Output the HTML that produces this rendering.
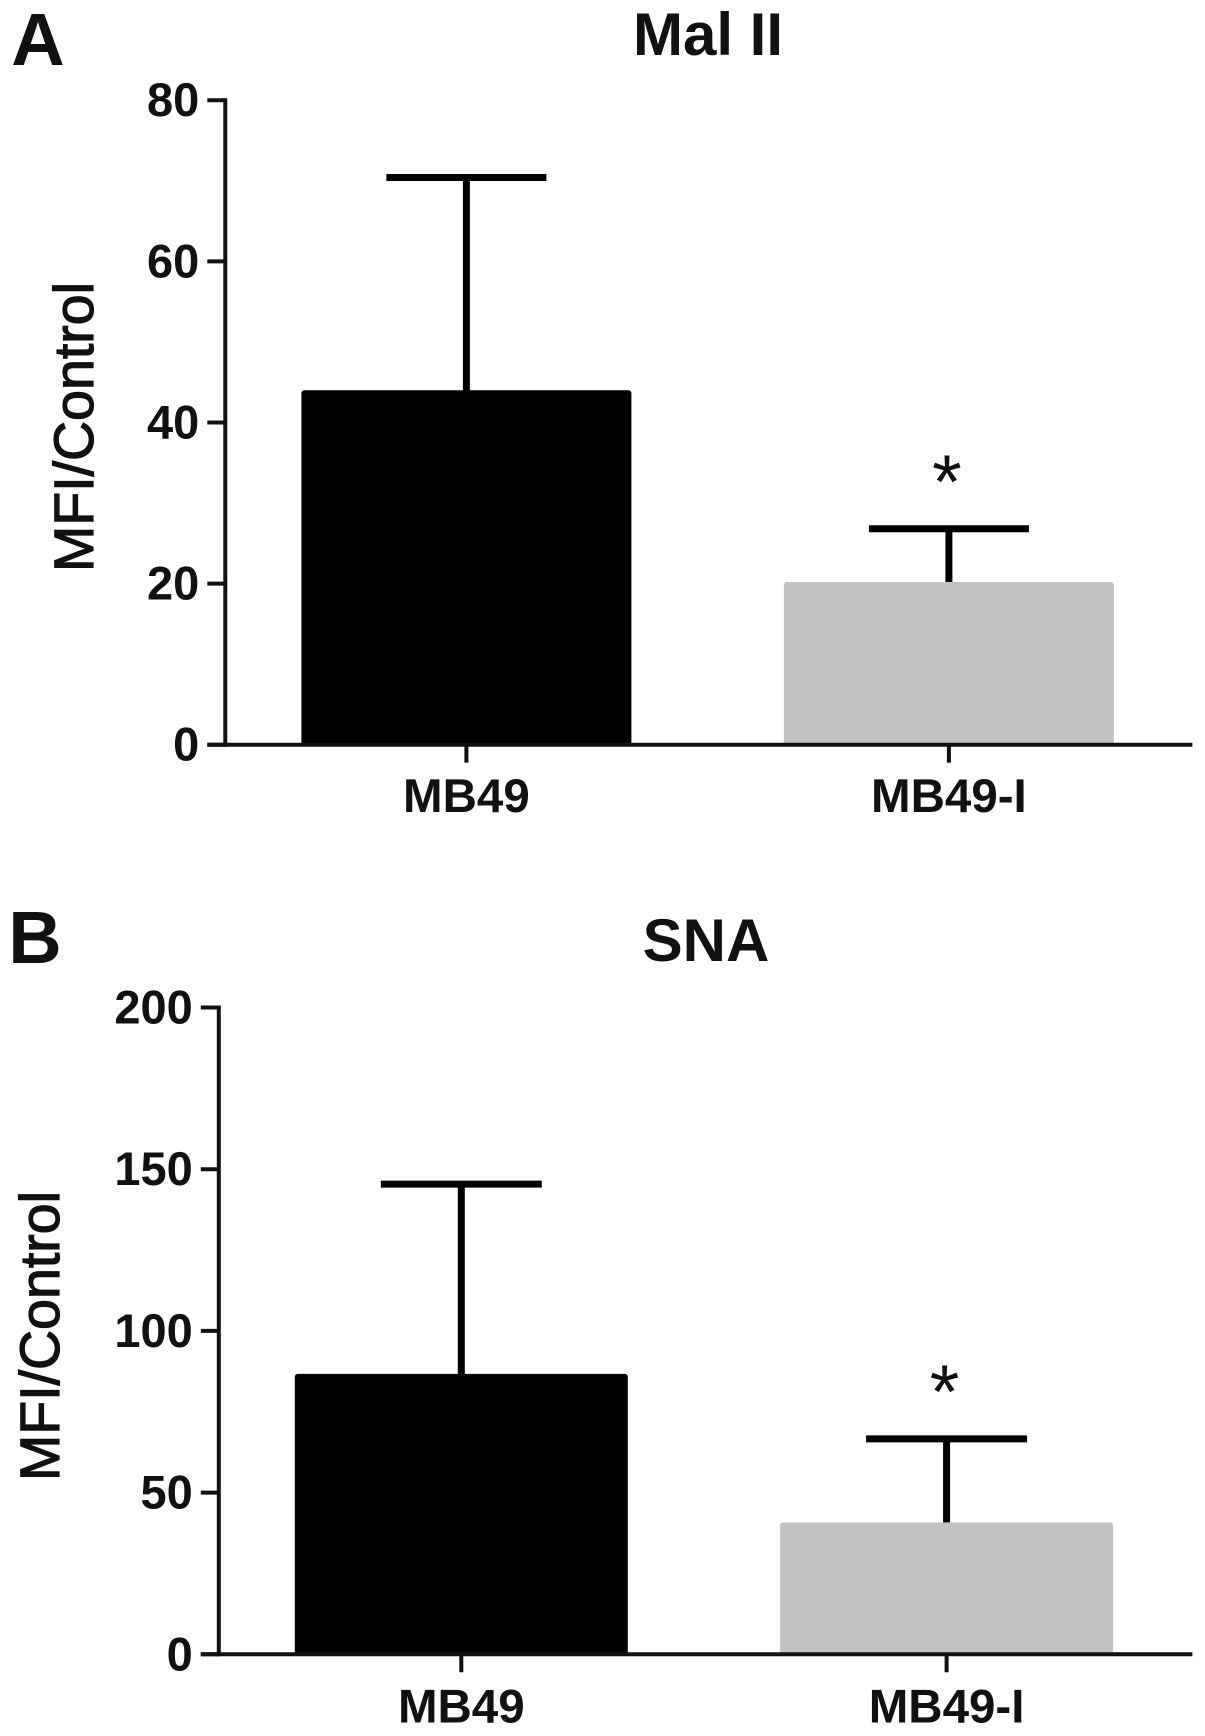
<!DOCTYPE html>
<html lang="en">
<head>
<meta charset="utf-8">
<title>Mal II and SNA MFI/Control</title>
<style>
html,body{margin:0;padding:0;background:#fff;width:1205px;height:1736px;overflow:hidden}
svg{display:block}
text{font-family:"Liberation Sans",Arial,sans-serif;fill:#111}
.tick{font-size:47px;font-weight:700;text-anchor:end}
.cat{font-size:47.5px;font-weight:700;text-anchor:middle}
.title{font-size:60px;font-weight:700;text-anchor:middle}
.letter{font-size:74px;font-weight:700;text-anchor:middle}
.ytitle{font-size:55.5px;font-weight:400;text-anchor:middle;stroke:#111;stroke-width:1.2px}
.star{font-size:76px;font-weight:400;text-anchor:middle}
</style>
</head>
<body>
<svg id="fig" width="1205" height="1736" viewBox="0 0 1205 1736" xmlns="http://www.w3.org/2000/svg">
  <rect x="0" y="0" width="1205" height="1736" fill="#fff"/>
  <text class="letter" x="38" y="65">A</text>
  <text class="title" x="708" y="55">Mal II</text>
  <text class="ytitle" transform="translate(93 427) rotate(-90)">MFI/Control</text>
  <g id="panelA"></g>
  <text class="letter" x="35" y="963">B</text>
  <text class="title" x="706" y="961">SNA</text>
  <text class="ytitle" transform="translate(59 1336) rotate(-90)">MFI/Control</text>
  <g id="panelB"></g>
</svg>
<script>
const categories = ['MB49', 'MB49-I'];
const significance = ['', '*'];
const malValues = [44.0, 20.2];
const malErrors = [26.4, 6.6];
const malTicks = [0, 20, 40, 60, 80];
const snaValues = [86.7, 40.8];
const snaErrors = [58.7, 25.8];
const snaTicks = [0, 50, 100, 150, 200];
const barFills = ['#000000', '#c2c2c2'];

const NS = 'http://www.w3.org/2000/svg';

function make(parent, tag, attrs, text) {
  const el = document.createElementNS(NS, tag);
  for (const k in attrs) el.setAttribute(k, attrs[k]);
  if (text !== undefined) el.textContent = text;
  parent.appendChild(el);
  return el;
}

function drawPanel(cfg) {
  const g = document.getElementById(cfg.id);
  const maxTick = cfg.ticks[cfg.ticks.length - 1];
  const y = v => cfg.y0 - (v / maxTick) * (cfg.y0 - cfg.yTop);
  const x = i => cfg.xStart + i * cfg.xStep;

  cfg.values.forEach((v, i) => {
    const cx = x(i);
    const top = y(v);
    const errTop = y(v + cfg.errors[i]);

    const stem = make(g, 'line', {x1: cx, x2: cx, y1: errTop, y2: top + 3, stroke: '#000', 'stroke-width': 7});
    
    

    const cap = make(g, 'line', {x1: cx - cfg.capW / 2, x2: cx + cfg.capW / 2, y1: errTop, y2: errTop, stroke: '#000', 'stroke-width': 7});
    
    

    const bar = make(g, 'rect', {x: cx - cfg.barW / 2, y: top, width: cfg.barW, height: cfg.y0 - top, rx: 3, ry: 3, fill: barFills[i]});
    
    

    if (significance[i]) {
      const star = make(g, 'text', {class: 'star', x: cx - 2, y: errTop - 21}, significance[i]);
      
      
    }

    const tick = make(g, 'line', {x1: cx, x2: cx, y1: cfg.y0, y2: cfg.y0 + 18, stroke: '#111', 'stroke-width': 4});
    
    

    const label = make(g, 'text', {class: 'cat', x: cx, y: cfg.catY}, categories[i]);
    
    
  });

  const yAxis = make(g, 'line', {x1: cfg.xAxis, x2: cfg.xAxis, y1: cfg.yTop - 2, y2: cfg.y0 + 2, stroke: '#111', 'stroke-width': 4});
  
  

  const xAxis = make(g, 'line', {x1: cfg.xAxis - 18, x2: cfg.xEnd, y1: cfg.y0, y2: cfg.y0, stroke: '#111', 'stroke-width': 4});
  
  

  cfg.ticks.forEach(t => {
    const ty = y(t);

    const tick = make(g, 'line', {x1: cfg.xAxis - 18, x2: cfg.xAxis, y1: ty, y2: ty, stroke: '#111', 'stroke-width': 4});
    
    

    const label = make(g, 'text', {class: 'tick', x: cfg.xAxis - 26, y: ty + 16}, String(t));
    
    
  });
}

drawPanel({id: 'panelA', values: malValues, errors: malErrors, ticks: malTicks,
  y0: 744.7, yTop: 100.2, xAxis: 225.3, xEnd: 1192.4, xStart: 466.4, xStep: 482.5,
  barW: 330, capW: 160, catY: 812});
drawPanel({id: 'panelB', values: snaValues, errors: snaErrors, ticks: snaTicks,
  y0: 1654.3, yTop: 1007.5, xAxis: 218.8, xEnd: 1192.4, xStart: 461.3, xStep: 485.3,
  barW: 333, capW: 161, catY: 1722.5});
</script>
</body>
</html>
